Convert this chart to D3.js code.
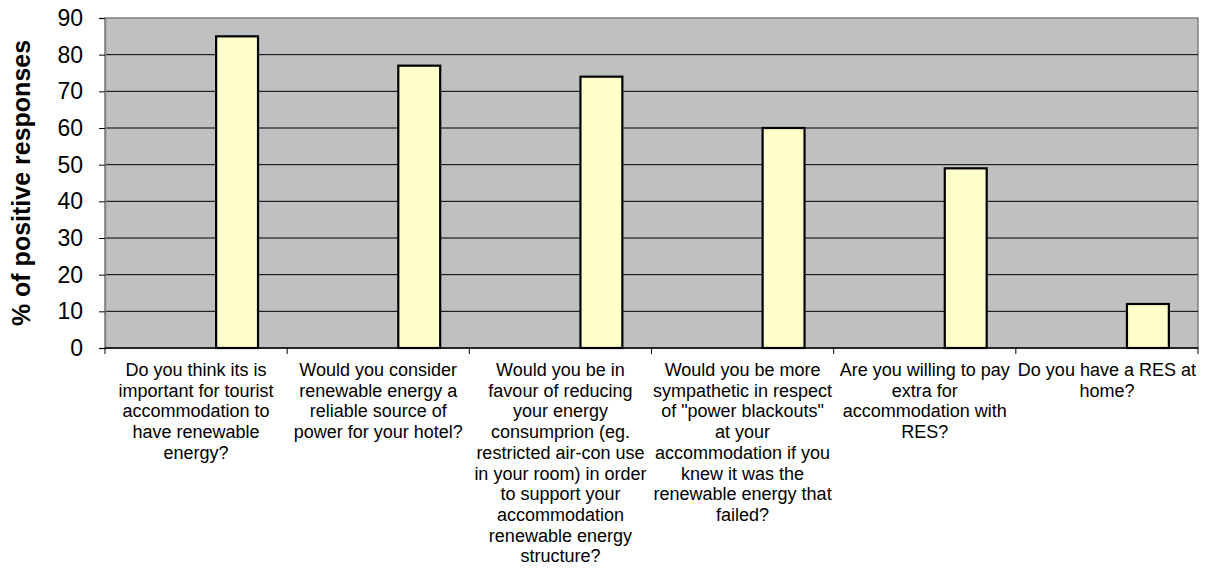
<!DOCTYPE html>
<html><head><meta charset="utf-8">
<script src="https://cdn.jsdelivr.net/npm/d3@7"></script>
<style>body{margin:0;background:#fff}svg{display:block}</style>
</head><body><svg id="c" width="1206" height="568"></svg>
<script>
const categories = [
  "Do you think its is important for tourist accommodation to have renewable energy?",
  "Would you consider renewable energy a reliable source of power for your hotel?",
  "Would you be in favour of reducing your energy consumprion (eg. restricted air-con use in your room) in order to support your accommodation renewable energy structure?",
  "Would you be more sympathetic in respect of \"power blackouts\" at your accommodation if you knew it was the renewable energy that failed?",
  "Are you willing to pay extra for accommodation with RES?",
  "Do you have a RES at home?"
];
const labelLines = [
  ["Do you think its is","important for tourist","accommodation to","have renewable","energy?"],
  ["Would you consider","renewable energy a","reliable source of","power for your hotel?"],
  ["Would you be in","favour of reducing","your energy","consumprion (eg.","restricted air-con use","in your room) in order","to support your","accommodation","renewable energy","structure?"],
  ["Would you be more","sympathetic in respect","of \"power blackouts\"","at your","accommodation if you","knew it was the","renewable energy that","failed?"],
  ["Are you willing to pay","extra for","accommodation with","RES?"],
  ["Do you have a RES at","home?"]
];
const values = [85, 77, 74, 60, 49, 12];
const yTicks = [0,10,20,30,40,50,60,70,80,90];
const yTitle = "% of positive responses";

const svg = d3.select("#c");
const m = {l:105, r:1198, t:18, b:348};
const x = d3.scaleBand().domain(categories).range([m.l, m.r]).padding(0);
const y = d3.scaleLinear().domain([0,90]).range([m.b, m.t]);
const font = "'Liberation Sans', Arial, sans-serif";

svg.append("rect").attr("x",m.l).attr("y",m.t).attr("width",m.r-m.l).attr("height",m.b-m.t)
  .attr("fill","#C0C0C0").attr("stroke","#808080").attr("stroke-width",1.5);

svg.append("g").selectAll("line").data(yTicks.filter(d=>d>0 && d<90)).join("line")
  .attr("x1",m.l).attr("x2",m.r).attr("y1",d=>y(d)).attr("y2",d=>y(d))
  .attr("stroke","#000").attr("stroke-width",1);

// y axis
const ya = svg.append("g").attr("transform",`translate(${m.l},0)`)
  .call(d3.axisLeft(y).tickValues(yTicks).tickSize(6).tickPadding(16));
ya.select(".domain").attr("stroke","#808080").attr("stroke-width",1.5);
ya.selectAll(".tick line").attr("stroke","#000");
ya.selectAll("text").attr("font-family",font).attr("font-size",23).attr("fill","#000");

// x axis line + ticks at boundaries
svg.append("line").attr("x1",m.l).attr("x2",m.r).attr("y1",m.b).attr("y2",m.b).attr("stroke","#000").attr("stroke-width",1.5);
const bounds = categories.map(c=>x(c)).concat([x(categories[categories.length-1])+x.bandwidth()]);
svg.append("g").selectAll("line").data(bounds).join("line")
  .attr("x1",d=>d).attr("x2",d=>d).attr("y1",m.b).attr("y2",m.b+6).attr("stroke","#000");

// bars
const bw = x.bandwidth();
svg.append("g").selectAll("rect").data(values).join("rect")
  .attr("x",(d,i)=>x(categories[i]) + bw*0.61)
  .attr("width",bw*0.23)
  .attr("y",d=>y(d)).attr("height",d=>y(0)-y(d))
  .attr("fill","#FFFFCC").attr("stroke","#000").attr("stroke-width",2.2);

// category labels
const lg = svg.append("g");
labelLines.forEach((lines,i)=>{
  const t = lg.append("text").attr("x",x(categories[i])+bw/2).attr("y",376)
    .attr("text-anchor","middle").attr("font-family",font).attr("font-size",18).attr("fill","#000");
  lines.forEach((ln,j)=>t.append("tspan").attr("x",x(categories[i])+bw/2).attr("dy",j?20.7:0).text(ln));
});

// y title
svg.append("text").attr("transform",`translate(30,${(m.t+m.b)/2}) rotate(-90)`)
  .attr("text-anchor","middle").attr("font-family",font).attr("font-weight","bold").attr("font-size",25)
  .attr("fill","#000").text(yTitle);
</script></body></html>
